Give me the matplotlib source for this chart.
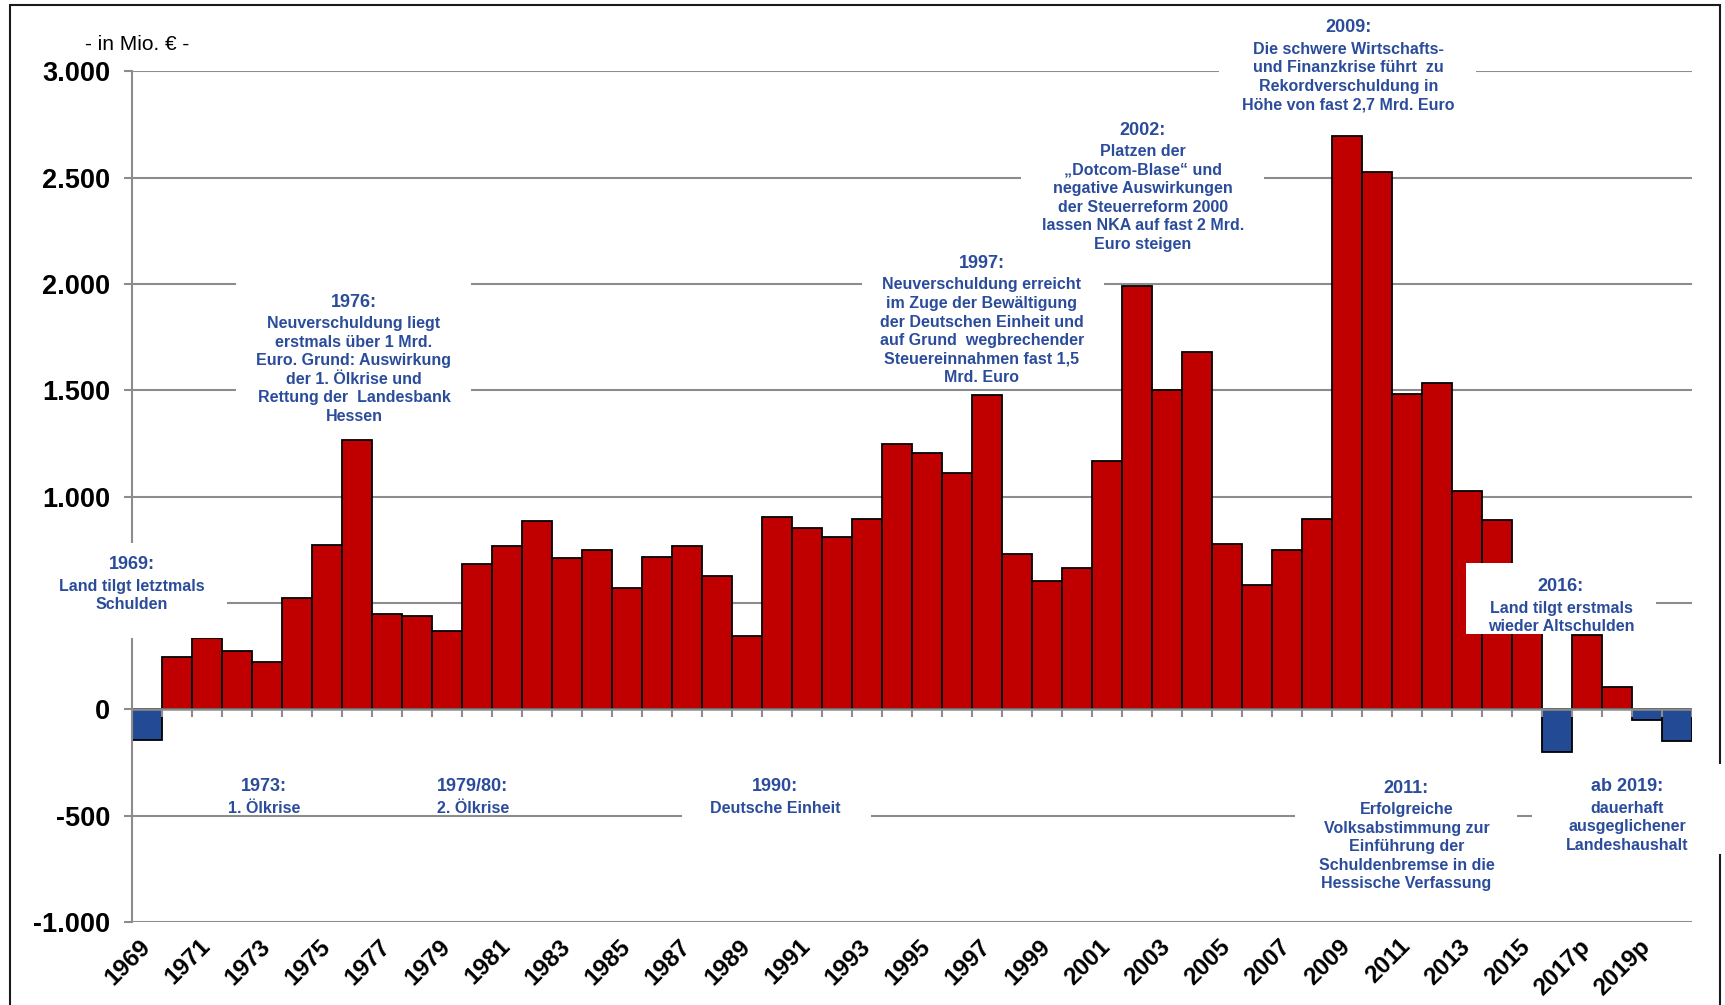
import matplotlib.pyplot as plt
from matplotlib.patches import Rectangle

plt.rcParams['font.family'] = ['Liberation Sans', 'DejaVu Sans']

# Nettokreditaufnahme Hessen, in Mio. Euro
years = [str(y) for y in range(1969, 2017)] + ["2017p", "2018p", "2019p", "2020p"]
nka = [-145, 244, 335, 275, 225, 523, 773, 1267, 448, 439,
       370, 683, 767, 884, 712, 749, 569, 716, 767, 625,
       343, 906, 851, 812, 895, 1248, 1204, 1113, 1479, 732,
       603, 665, 1167, 1990, 1500, 1680, 778, 583, 748, 895,
       2695, 2527, 1481, 1536, 1029, 891, 500, -200, 351, 103,
       -48, -147]

y_ticks = [-1000, -500, 0, 500, 1000, 1500, 2000, 2500, 3000]
# the 500 label is hidden behind the 1969 note in the original
y_labels = ["-1.000", "-500", "0", "", "1.000", "1.500", "2.000", "2.500", "3.000"]

RED = "#c00000"
BLUE = "#234a94"
TXT = "#2b4c9b"
GRID = "#8c8c8c"

fig = plt.figure(figsize=(17.25, 10.05), dpi=100)
ax = fig.add_axes([0.0765, 0.0826, 0.9044, 0.8463])

n = len(years)
x = list(range(n))
colors = [RED if v >= 0 else BLUE for v in nka]

for t in y_ticks:
    if t != 0:
        ax.axhline(t, color=GRID, lw=1.5, zorder=0.5)

ax.bar(x, nka, width=1.0, color=colors, edgecolor="black", linewidth=1.3, zorder=2)

# zero line with category ticks
ax.axhline(0, color=GRID, lw=1.8, zorder=2.5)
ax.vlines([i - 0.5 for i in range(n + 1)], -35, 0, color=GRID, lw=1.5, zorder=2.5)

ax.set_xlim(-0.5, n - 0.5)
ax.set_ylim(-1000, 3000)
for s in ["top", "right", "bottom"]:
    ax.spines[s].set_visible(False)
ax.spines["left"].set_color(GRID)
ax.spines["left"].set_linewidth(1.5)

ax.set_yticks(y_ticks, y_labels, fontsize=19.5, fontweight="bold")
ax.tick_params(axis="y", length=5.8, width=1.5, color=GRID, pad=10)
ax.set_xticks(x[::2], years[::2], fontsize=17.5, fontweight="bold",
              rotation=45, ha="right", va="center", rotation_mode="anchor")
ax.tick_params(axis="x", length=0, pad=15)

# white boxes behind the notes
boxes = [(-3.9, 2.67, 337, 784), (2.97, 10.81, 1321, 2017), (23.82, 31.9, 1514, 2159),
         (29.13, 37.24, 2111, 2809), (35.74, 44.31, 2771, 3298), (17.82, 24.12, -534, -299),
         (38.27, 45.65, -901, -299), (46.15, 52.99, -681, -257), (43.98, 50.29, 356, 686)]
for x0, x1, y0, y1 in boxes:
    ax.add_patch(Rectangle((x0, y0), x1 - x0, y1 - y0, facecolor="white",
                           edgecolor="none", zorder=3, clip_on=False))

notes = [
    (-0.5, 680, "1969:", "Land tilgt letztmals\nSchulden"),
    (6.9, 1915, "1976:", "Neuverschuldung liegt\nerstmals über 1 Mrd.\nEuro. Grund: Auswirkung\n"
                         "der 1. Ölkrise und\nRettung der  Landesbank\nHessen"),
    (27.83, 2097, "1997:", "Neuverschuldung erreicht\nim Zuge der Bewältigung\nder Deutschen Einheit und\n"
                           "auf Grund  wegbrechender\nSteuereinnahmen fast 1,5\nMrd. Euro"),
    (33.2, 2724, "2002:", "Platzen der\n„Dotcom-Blase“ und\nnegative Auswirkungen\n"
                          "der Steuerreform 2000\nlassen NKA auf fast 2 Mrd.\nEuro steigen"),
    (40.04, 3205, "2009:", "Die schwere Wirtschafts-\nund Finanzkrise führt  zu\n"
                           "Rekordverschuldung in\nHöhe von fast 2,7 Mrd. Euro"),
    (3.9, -365, "1973:", "1. Ölkrise"),
    (10.86, -365, "1979/80:", "2. Ölkrise"),
    (20.95, -365, "1990:", "Deutsche Einheit"),
    (41.98, -370, "2011:", "Erfolgreiche\nVolksabstimmung zur\nEinführung der\n"
                           "Schuldenbremse in die\nHessische Verfassung"),
    (49.34, -365, "ab 2019:", "dauerhaft\nausgeglichener\nLandeshaushalt"),
    (47.13, 577, "2016:", "Land tilgt erstmals\nwieder Altschulden"),
]
for nx, ny, head, body in notes:
    ax.text(nx, ny, head, ha="center", va="center", fontsize=13, fontweight="bold",
            color=TXT, zorder=4)
    ax.annotate(body, (nx, ny), xytext=(0, -10), textcoords="offset points",
                ha="center", va="top", fontsize=11.5, fontweight="bold",
                color=TXT, linespacing=1.3, zorder=4, annotation_clip=False)

fig.text(137 / 1725, 1 - 44 / 1005, "- in Mio. € -", ha="center", va="center", fontsize=15)

fig.add_artist(Rectangle((0.0056, -0.01), 0.9915, 1.0053, transform=fig.transFigure,
                         fill=False, edgecolor="#1a1a1a", lw=1.5, zorder=-1))

fig.savefig("out.png", dpi=100)
